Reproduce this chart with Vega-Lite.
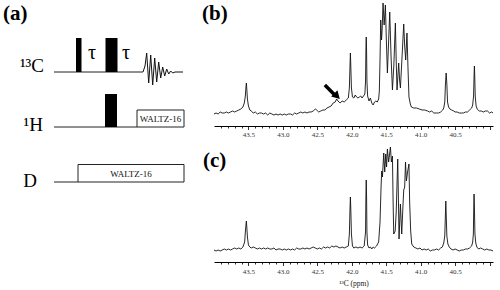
{
  "$schema": "https://vega.github.io/schema/vega-lite/v6.json",
  "padding": 0,
  "config": {"view": {"stroke": null}, "font": "Liberation Serif"},
  "datasets": {
    "specB": [
      {"p":44.00,"i":12},{"p":43.97,"i":13},{"p":43.94,"i":12},{"p":43.91,"i":14},{"p":43.88,"i":13},{"p":43.85,"i":13},{"p":43.82,"i":14},{"p":43.79,"i":13},{"p":43.76,"i":14},{"p":43.73,"i":15},{"p":43.70,"i":14},{"p":43.67,"i":15},{"p":43.64,"i":16},{"p":43.61,"i":17},{"p":43.58,"i":19},{"p":43.56,"i":23},{"p":43.545,"i":30},{"p":43.535,"i":40},{"p":43.53,"i":43},{"p":43.525,"i":38},{"p":43.515,"i":27},{"p":43.50,"i":20},{"p":43.48,"i":16},{"p":43.46,"i":15},{"p":43.43,"i":13},{"p":43.40,"i":14},{"p":43.37,"i":12},{"p":43.34,"i":13},{"p":43.31,"i":13},{"p":43.28,"i":12},{"p":43.25,"i":13},{"p":43.22,"i":11},{"p":43.19,"i":13},{"p":43.16,"i":12},{"p":43.13,"i":11},{"p":43.10,"i":12},{"p":43.07,"i":11},{"p":43.04,"i":12},{"p":43.01,"i":11},{"p":42.98,"i":12},{"p":42.95,"i":11},{"p":42.92,"i":12},{"p":42.89,"i":12},{"p":42.86,"i":11},{"p":42.83,"i":13},{"p":42.80,"i":12},{"p":42.77,"i":13},{"p":42.74,"i":14},{"p":42.71,"i":13},{"p":42.68,"i":14},{"p":42.65,"i":13},{"p":42.62,"i":14},{"p":42.59,"i":14},{"p":42.56,"i":15},{"p":42.53,"i":17},{"p":42.51,"i":16},{"p":42.48,"i":14},{"p":42.45,"i":15},{"p":42.42,"i":16},{"p":42.39,"i":16},{"p":42.36,"i":18},{"p":42.33,"i":19},{"p":42.30,"i":20},{"p":42.27,"i":23},{"p":42.24,"i":24},{"p":42.22,"i":27},{"p":42.20,"i":25},{"p":42.17,"i":23},{"p":42.14,"i":25},{"p":42.11,"i":24},{"p":42.08,"i":26},{"p":42.05,"i":28},{"p":42.035,"i":38},{"p":42.025,"i":62},{"p":42.02,"i":73},{"p":42.015,"i":62},{"p":42.005,"i":38},{"p":41.99,"i":29},{"p":41.97,"i":28},{"p":41.95,"i":31},{"p":41.93,"i":29},{"p":41.91,"i":28},{"p":41.89,"i":29},{"p":41.87,"i":30},{"p":41.85,"i":28},{"p":41.83,"i":30},{"p":41.81,"i":32},{"p":41.80,"i":45},{"p":41.795,"i":75},{"p":41.79,"i":89},{"p":41.785,"i":75},{"p":41.78,"i":45},{"p":41.77,"i":30},{"p":41.75,"i":25},{"p":41.73,"i":28},{"p":41.71,"i":23},{"p":41.69,"i":21},{"p":41.67,"i":24},{"p":41.65,"i":25},{"p":41.63,"i":24},{"p":41.61,"i":27},{"p":41.60,"i":35},{"p":41.59,"i":66},{"p":41.58,"i":106},{"p":41.568,"i":86},{"p":41.56,"i":95},{"p":41.546,"i":123},{"p":41.53,"i":101},{"p":41.512,"i":121},{"p":41.50,"i":90},{"p":41.483,"i":53},{"p":41.465,"i":85},{"p":41.449,"i":114},{"p":41.43,"i":70},{"p":41.41,"i":36},{"p":41.39,"i":60},{"p":41.367,"i":103},{"p":41.355,"i":65},{"p":41.343,"i":36},{"p":41.319,"i":63},{"p":41.305,"i":45},{"p":41.294,"i":38},{"p":41.265,"i":76},{"p":41.255,"i":90},{"p":41.246,"i":102},{"p":41.232,"i":80},{"p":41.217,"i":66},{"p":41.199,"i":93},{"p":41.185,"i":60},{"p":41.17,"i":29},{"p":41.15,"i":22},{"p":41.135,"i":19},{"p":41.10,"i":18},{"p":41.06,"i":18},{"p":41.02,"i":17},{"p":40.98,"i":16},{"p":40.94,"i":16},{"p":40.90,"i":15},{"p":40.87,"i":14},{"p":40.84,"i":15},{"p":40.81,"i":13},{"p":40.77,"i":13},{"p":40.74,"i":13},{"p":40.71,"i":14},{"p":40.68,"i":16},{"p":40.665,"i":18},{"p":40.65,"i":24},{"p":40.64,"i":42},{"p":40.63,"i":53},{"p":40.62,"i":42},{"p":40.61,"i":24},{"p":40.595,"i":19},{"p":40.575,"i":17},{"p":40.55,"i":16},{"p":40.52,"i":15},{"p":40.50,"i":14},{"p":40.47,"i":14},{"p":40.44,"i":13},{"p":40.41,"i":13},{"p":40.38,"i":13},{"p":40.35,"i":14},{"p":40.32,"i":14},{"p":40.29,"i":16},{"p":40.26,"i":18},{"p":40.245,"i":21},{"p":40.232,"i":30},{"p":40.225,"i":50},{"p":40.22,"i":60},{"p":40.215,"i":50},{"p":40.208,"i":30},{"p":40.195,"i":20},{"p":40.18,"i":17},{"p":40.15,"i":15},{"p":40.12,"i":15},{"p":40.09,"i":14},{"p":40.06,"i":15},{"p":40.03,"i":15},{"p":40.00,"i":13},{"p":39.97,"i":14},{"p":39.95,"i":13}
    ],
    "specC": [
      {"p":44.00,"i":12},{"p":43.97,"i":11},{"p":43.94,"i":12},{"p":43.91,"i":11},{"p":43.88,"i":12},{"p":43.85,"i":13},{"p":43.82,"i":12},{"p":43.79,"i":13},{"p":43.76,"i":12},{"p":43.73,"i":13},{"p":43.70,"i":14},{"p":43.67,"i":13},{"p":43.64,"i":14},{"p":43.61,"i":13},{"p":43.58,"i":15},{"p":43.555,"i":20},{"p":43.545,"i":30},{"p":43.535,"i":38},{"p":43.53,"i":41},{"p":43.525,"i":36},{"p":43.515,"i":25},{"p":43.50,"i":17},{"p":43.48,"i":15},{"p":43.46,"i":14},{"p":43.43,"i":15},{"p":43.40,"i":14},{"p":43.37,"i":13},{"p":43.34,"i":14},{"p":43.31,"i":13},{"p":43.28,"i":14},{"p":43.25,"i":13},{"p":43.22,"i":14},{"p":43.19,"i":13},{"p":43.16,"i":13},{"p":43.13,"i":14},{"p":43.10,"i":12},{"p":43.07,"i":13},{"p":43.04,"i":13},{"p":43.01,"i":12},{"p":42.98,"i":13},{"p":42.95,"i":12},{"p":42.92,"i":13},{"p":42.89,"i":12},{"p":42.86,"i":13},{"p":42.83,"i":12},{"p":42.80,"i":14},{"p":42.77,"i":13},{"p":42.74,"i":13},{"p":42.71,"i":14},{"p":42.68,"i":13},{"p":42.65,"i":14},{"p":42.62,"i":13},{"p":42.59,"i":14},{"p":42.56,"i":15},{"p":42.53,"i":14},{"p":42.50,"i":13},{"p":42.47,"i":14},{"p":42.44,"i":13},{"p":42.41,"i":15},{"p":42.38,"i":14},{"p":42.35,"i":15},{"p":42.32,"i":14},{"p":42.29,"i":16},{"p":42.26,"i":15},{"p":42.23,"i":16},{"p":42.20,"i":15},{"p":42.17,"i":14},{"p":42.14,"i":15},{"p":42.11,"i":14},{"p":42.08,"i":15},{"p":42.05,"i":16},{"p":42.035,"i":28},{"p":42.025,"i":55},{"p":42.02,"i":65},{"p":42.015,"i":55},{"p":42.005,"i":28},{"p":41.99,"i":16},{"p":41.97,"i":14},{"p":41.94,"i":15},{"p":41.91,"i":14},{"p":41.88,"i":15},{"p":41.85,"i":14},{"p":41.82,"i":16},{"p":41.80,"i":30},{"p":41.795,"i":65},{"p":41.79,"i":82},{"p":41.785,"i":65},{"p":41.78,"i":30},{"p":41.77,"i":17},{"p":41.75,"i":14},{"p":41.73,"i":15},{"p":41.71,"i":13},{"p":41.69,"i":15},{"p":41.67,"i":14},{"p":41.64,"i":16},{"p":41.61,"i":20},{"p":41.59,"i":40},{"p":41.575,"i":75},{"p":41.565,"i":91},{"p":41.555,"i":85},{"p":41.536,"i":109},{"p":41.522,"i":90},{"p":41.507,"i":108},{"p":41.495,"i":95},{"p":41.483,"i":113},{"p":41.465,"i":100},{"p":41.439,"i":115},{"p":41.425,"i":100},{"p":41.41,"i":106},{"p":41.40,"i":60},{"p":41.391,"i":28},{"p":41.37,"i":31},{"p":41.355,"i":50},{"p":41.333,"i":103},{"p":41.322,"i":60},{"p":41.314,"i":23},{"p":41.294,"i":58},{"p":41.275,"i":28},{"p":41.258,"i":55},{"p":41.246,"i":72},{"p":41.232,"i":75},{"p":41.22,"i":100},{"p":41.207,"i":81},{"p":41.19,"i":90},{"p":41.17,"i":98},{"p":41.16,"i":60},{"p":41.145,"i":31},{"p":41.13,"i":18},{"p":41.10,"i":15},{"p":41.07,"i":14},{"p":41.04,"i":13},{"p":41.01,"i":14},{"p":40.98,"i":12},{"p":40.95,"i":13},{"p":40.92,"i":12},{"p":40.89,"i":13},{"p":40.86,"i":11},{"p":40.83,"i":12},{"p":40.80,"i":12},{"p":40.77,"i":13},{"p":40.74,"i":12},{"p":40.71,"i":14},{"p":40.685,"i":15},{"p":40.665,"i":19},{"p":40.65,"i":26},{"p":40.642,"i":45},{"p":40.635,"i":61},{"p":40.628,"i":45},{"p":40.62,"i":26},{"p":40.605,"i":18},{"p":40.585,"i":15},{"p":40.56,"i":13},{"p":40.53,"i":12},{"p":40.50,"i":13},{"p":40.47,"i":12},{"p":40.44,"i":11},{"p":40.41,"i":12},{"p":40.38,"i":12},{"p":40.35,"i":13},{"p":40.32,"i":13},{"p":40.29,"i":14},{"p":40.26,"i":16},{"p":40.245,"i":20},{"p":40.235,"i":28},{"p":40.23,"i":52},{"p":40.225,"i":68},{"p":40.22,"i":55},{"p":40.212,"i":28},{"p":40.20,"i":19},{"p":40.185,"i":15},{"p":40.16,"i":13},{"p":40.13,"i":14},{"p":40.10,"i":13},{"p":40.07,"i":12},{"p":40.04,"i":13},{"p":40.01,"i":12},{"p":39.98,"i":12},{"p":39.95,"i":11}
    ]
  },
  "hconcat": [
    {
      "width": 200,
      "height": 290,
      "encoding": {
        "x": {"field": "x", "type": "quantitative", "scale": {"domain": [0, 200], "nice": false}, "axis": null},
        "y": {"field": "y", "type": "quantitative", "scale": {"domain": [0, 290], "reverse": true, "nice": false}, "axis": null}
      },
      "layer": [
        {
          "data": {"values": [{"x":54,"x2":143,"y":72},{"x":54,"x2":137,"y":127},{"x":54,"x2":78,"y":182}]},
          "mark": {"type": "rule", "color": "#222", "strokeWidth": 1},
          "encoding": {"x2": {"field": "x2"}}
        },
        {
          "data": {"values": [{"x":76,"x2":81.5,"y":38,"y2":72},{"x":105.5,"x2":117.5,"y":38,"y2":72},{"x":105,"x2":117,"y":94,"y2":127}]},
          "mark": {"type": "rect", "color": "#000"},
          "encoding": {"x2": {"field": "x2"}, "y2": {"field": "y2"}}
        },
        {
          "data": {"values": [{"x":137,"x2":184,"y":110,"y2":127},{"x":78,"x2":184,"y":164.5,"y2":182}]},
          "mark": {"type": "rect", "fill": "#fff", "stroke": "#222", "strokeWidth": 1},
          "encoding": {"x2": {"field": "x2"}, "y2": {"field": "y2"}}
        },
        {
          "data": {"values": [{"x":143,"y":72},{"x":145,"y":66},{"x":146.7,"y":53},{"x":148.7,"y":83},{"x":150.7,"y":55},{"x":152.7,"y":85},{"x":154.7,"y":58},{"x":156.7,"y":82},{"x":158.7,"y":62},{"x":160.7,"y":78},{"x":162.7,"y":67},{"x":164.7,"y":76},{"x":166.7,"y":69},{"x":168.7,"y":74},{"x":170.7,"y":71},{"x":172.7,"y":73},{"x":175,"y":72},{"x":183,"y":72}]},
          "mark": {"type": "line", "color": "#111", "strokeWidth": 1}
        },
        {
          "data": {"values": [{"x":160.5,"y":118.5,"t":"WALTZ-16"},{"x":131,"y":173.5,"t":"WALTZ-16"}]},
          "mark": {"type": "text", "font": "Liberation Serif", "fontSize": 9, "color": "#111", "baseline": "middle", "align": "center"},
          "encoding": {"text": {"field": "t"}}
        },
        {
          "data": {"values": [{"x":92,"y":53,"t":"τ"},{"x":126,"y":53,"t":"τ"}]},
          "mark": {"type": "text", "font": "Liberation Serif", "fontSize": 20, "color": "#000", "baseline": "middle", "align": "center"},
          "encoding": {"text": {"field": "t"}}
        },
        {
          "data": {"values": [{"x":44,"y":72,"t":"¹³C"},{"x":43,"y":131,"t":"¹H"},{"x":37,"y":187,"t":"D"}]},
          "mark": {"type": "text", "font": "Liberation Serif", "fontSize": 19, "color": "#000", "baseline": "alphabetic", "align": "right"},
          "encoding": {"text": {"field": "t"}}
        },
        {
          "data": {"values": [{"x":3,"y":14,"t":"(a)"}]},
          "mark": {"type": "text", "font": "Liberation Serif", "fontSize": 21, "fontWeight": "bold", "color": "#000", "baseline": "middle", "align": "left"},
          "encoding": {"text": {"field": "t"}}
        }
      ]
    },
    {
      "vconcat": [
        {
          "width": 279,
          "height": 126,
          "encoding": {
            "x": {"field": "p", "type": "quantitative",
              "scale": {"domain": [39.95, 44.0], "reverse": true, "nice": false, "zero": false},
              "axis": {"title": null, "grid": false,
                "values": [43.9,43.8,43.7,43.6,43.5,43.4,43.3,43.2,43.1,43.0,42.9,42.8,42.7,42.6,42.5,42.4,42.3,42.2,42.1,42.0,41.9,41.8,41.7,41.6,41.5,41.4,41.3,41.2,41.1,41.0,40.9,40.8,40.7,40.6,40.5,40.4,40.3,40.2,40.1,40.0],
                "labelExpr": "(abs(datum.value*2-round(datum.value*2))<0.01 && datum.value>40.2) ? format(datum.value,'.1f') : ''",
                "tickSize": {"condition": {"test": "abs(datum.value*2-round(datum.value*2))<0.01", "value": 3.5}, "value": 2},
                "domainColor": "#000", "tickColor": "#000", "tickWidth": 0.8,
                "labelFont": "Liberation Serif", "labelFontSize": 7, "labelColor": "#333", "labelPadding": 1,
                "labelFlush": false, "labelOverlap": false}},
            "y": {"field": "i", "type": "quantitative", "scale": {"domain": [0, 126], "nice": false}, "axis": null}
          },
          "layer": [
            {"data": {"name": "specB"}, "mark": {"type": "line", "color": "#111", "strokeWidth": 0.9}},
            {
              "data": {"values": [{"p":42.391,"i":41,"p2":42.246,"i2":31}]},
              "mark": {"type": "rule", "color": "#000", "strokeWidth": 3.5},
              "encoding": {"x2": {"field": "p2"}, "y2": {"field": "i2"}}
            },
            {
              "data": {"values": [{"p":42.214,"i":29.8}]},
              "mark": {"type": "point", "shape": "triangle-up", "angle": 135, "filled": true, "color": "#000", "size": 80, "opacity": 1}
            },
            {
              "data": {"values": [{"p":44.0,"i":112,"t":"(b)"}]},
              "mark": {"type": "text", "font": "Liberation Serif", "fontSize": 21, "fontWeight": "bold", "color": "#000", "baseline": "middle", "align": "left", "dx": -12},
              "encoding": {"text": {"field": "t"}}
            }
          ]
        },
        {
          "width": 279,
          "height": 120,
          "encoding": {
            "x": {"field": "p", "type": "quantitative",
              "scale": {"domain": [39.95, 44.0], "reverse": true, "nice": false, "zero": false},
              "axis": {"title": "¹³C (ppm)", "grid": false,
                "values": [43.9,43.8,43.7,43.6,43.5,43.4,43.3,43.2,43.1,43.0,42.9,42.8,42.7,42.6,42.5,42.4,42.3,42.2,42.1,42.0,41.9,41.8,41.7,41.6,41.5,41.4,41.3,41.2,41.1,41.0,40.9,40.8,40.7,40.6,40.5,40.4,40.3,40.2,40.1,40.0],
                "labelExpr": "(abs(datum.value*2-round(datum.value*2))<0.01 && datum.value>40.2) ? format(datum.value,'.1f') : ''",
                "tickSize": {"condition": {"test": "abs(datum.value*2-round(datum.value*2))<0.01", "value": 3.5}, "value": 2},
                "domainColor": "#000", "tickColor": "#000", "tickWidth": 0.8,
                "labelFont": "Liberation Serif", "labelFontSize": 7, "labelColor": "#333", "labelPadding": 2,
                "labelFlush": false, "labelOverlap": false,
                "titleFont": "Liberation Serif", "titleFontSize": 7.5, "titleFontWeight": "normal", "titleColor": "#222", "titlePadding": 5}},
            "y": {"field": "i", "type": "quantitative", "scale": {"domain": [0, 120], "nice": false}, "axis": null}
          },
          "layer": [
            {"data": {"name": "specC"}, "mark": {"type": "line", "color": "#111", "strokeWidth": 0.9}},
            {
              "data": {"values": [{"p":44.0,"i":101,"t":"(c)"}]},
              "mark": {"type": "text", "font": "Liberation Serif", "fontSize": 21, "fontWeight": "bold", "color": "#000", "baseline": "middle", "align": "left", "dx": -11},
              "encoding": {"text": {"field": "t"}}
            }
          ]
        }
      ],
      "spacing": 16,
      "bounds": "flush"
    }
  ],
  "spacing": 14,
  "bounds": "flush"
}
